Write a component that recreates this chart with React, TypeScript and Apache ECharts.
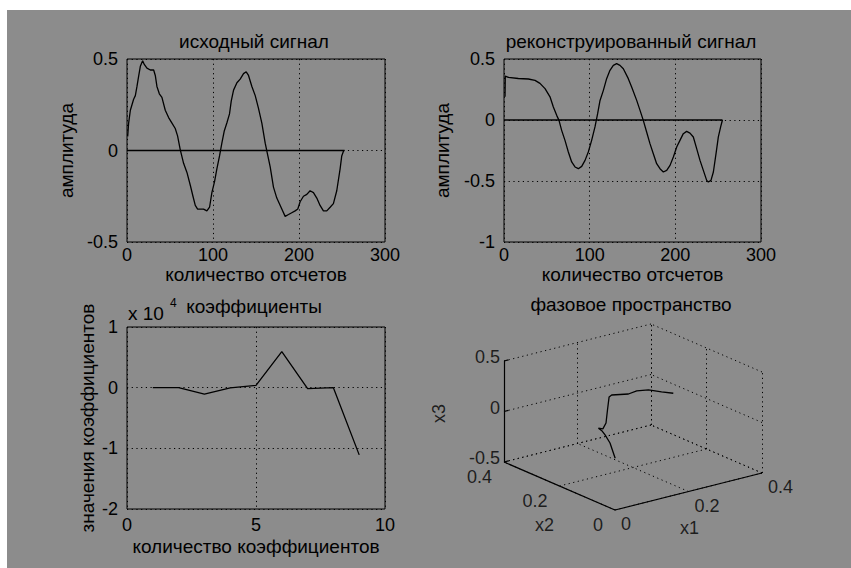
import React, { useEffect, useRef } from "react";
import * as echarts from "echarts";

// ---------- data ----------
const signalT = [0.8,1.9,3.9,5.8,7.7,9.7,11.6,13.5,15.5,18.2,20.1,23.2,27.1,31,32.9,34.8,37.6,40.6,44.5,48.4,52.3,56.1,58.8,61.9,65.8,69.7,73.6,76.7,79.4,82.1,85.2,89,92.9,96,98.7,101.8,104.5,107.6,110.3,113,116.1,119.2,121.2,123.9,127.8,131.6,135.5,138.6,141.3,145.2,149.1,152.9,156.8,160.7,163.8,166.5,170.3,174.2,180,183.9,187.8,191.6,195.5,198.6,201.3,205.2,209.1,212.9,216.8,220.7,224.5,228.4,232.3,236.2,240,243.9,247.8,249.7,252];
const signalV = [0.077,0.15,0.22,0.25,0.28,0.3,0.35,0.405,0.46,0.49,0.47,0.45,0.44,0.44,0.41,0.35,0.31,0.29,0.22,0.18,0.15,0.12,0.08,0.005,-0.07,-0.12,-0.19,-0.25,-0.3,-0.32,-0.32,-0.32,-0.33,-0.31,-0.23,-0.17,-0.1,-0.03,0.04,0.105,0.15,0.2,0.27,0.33,0.37,0.39,0.42,0.43,0.41,0.35,0.3,0.23,0.15,0.04,-0.03,-0.09,-0.2,-0.26,-0.32,-0.36,-0.35,-0.34,-0.33,-0.32,-0.28,-0.25,-0.24,-0.22,-0.23,-0.26,-0.3,-0.33,-0.33,-0.31,-0.29,-0.22,-0.1,-0.03,0];
const signalBaseT = [0, 253];
const signalBaseV = [0, 0];

const reconT = [1.2,1.5,5.1,16.7,28.4,36.2,42,47.9,53.7,57.6,61.5,64.2,67.3,71.2,75.1,79,82.9,86.8,90.7,94.6,98.4,102.3,106.2,109.3,112.1,116,119.8,123.7,127.6,131.5,135.4,139.3,145.1,149,154.9,158.8,162.6,166.5,170.4,174.3,178.2,182.1,186,189.9,193.8,197.7,201.6,205.4,209.3,213.2,217.1,221,224.9,228.8,232.7,236.6,238.5,241.6,244.4,247.5,250.2,252.9,255];
const reconV = [0.19,0.36,0.35,0.34,0.336,0.325,0.3,0.257,0.19,0.107,0.038,-0.003,-0.085,-0.167,-0.262,-0.344,-0.385,-0.399,-0.38,-0.331,-0.262,-0.167,-0.057,0.052,0.16,0.243,0.339,0.407,0.448,0.462,0.448,0.42,0.339,0.27,0.161,0.079,-0.003,-0.098,-0.194,-0.276,-0.358,-0.399,-0.426,-0.413,-0.372,-0.303,-0.221,-0.167,-0.112,-0.093,-0.107,-0.139,-0.235,-0.331,-0.413,-0.495,-0.508,-0.495,-0.426,-0.276,-0.139,-0.057,0];
const reconBaseT = [0, 255];
const reconBaseV = [0, 0];

const coefN = [1, 2, 3, 4, 5, 6, 7, 8, 9];
const coefV = [0, 0, -1080, -30, 380, 5950, -160, 0, -11080];

const phaseX1 = [0.159,0.145,0.124,0.115,0.106,0.118,0.119,0.123,0.135,0.142,0.18,0.195,0.227,0.255,0.287];
const phaseX2 = [0.21,0.21,0.2,0.2,0.2,0.2,0.19,0.19,0.2,0.2,0.19,0.18,0.18,0.17,0.17];
const phaseX3 = [-0.383,-0.219,-0.108,-0.058,-0.025,-0.043,0.027,0.152,0.258,0.271,0.258,0.286,0.267,0.235,0.191];

const x1Ticks = [0, 0.2, 0.4];
const x2Ticks = [0, 0.2, 0.4];
const x3Ticks = [-0.5, 0, 0.5];

// ---------- styling ----------
const FONT = "'Liberation Sans', Arial, Helvetica, sans-serif";
const INK = "#000";
const DOT: number[] = [1.2, 3.5];
const TICK_FS = 18;

// 3D -> screen projection (view of the phase-space box)
const P_ORIGIN = [615, 510];
const P_VX1 = [147, -37];
const P_VX2 = [-111, -48];
const P_VX3 = [0, -101];
function project(a: number, b: number, c: number): number[] {
  const u = (a - x1Ticks[0]) / (x1Ticks[x1Ticks.length - 1] - x1Ticks[0]);
  const v = (b - x2Ticks[0]) / (x2Ticks[x2Ticks.length - 1] - x2Ticks[0]);
  const w = (c - x3Ticks[0]) / (x3Ticks[x3Ticks.length - 1] - x3Ticks[0]);
  return [
    P_ORIGIN[0] + u * P_VX1[0] + v * P_VX2[0] + w * P_VX3[0],
    P_ORIGIN[1] + u * P_VX1[1] + v * P_VX2[1] + w * P_VX3[1],
  ];
}

function pairs(xs: number[], ys: number[]) {
  return xs.map((x, i) => [x, ys[i]]);
}

function tickLabel(margin: number, extra: any = {}) {
  return { color: INK, fontSize: TICK_FS, fontFamily: FONT, margin, ...extra };
}

function axisCommon(extra: any) {
  return {
    type: "value",
    axisLine: { show: false },
    axisTick: { show: false },
    nameLocation: "middle",
    nameTextStyle: { color: INK, fontSize: 19, fontFamily: FONT },
    splitLine: { show: true, lineStyle: { color: INK, width: 1, type: DOT } },
    ...extra,
  };
}

function buildOption() {
  const x1Max = x1Ticks[x1Ticks.length - 1];
  const x2Max = x2Ticks[x2Ticks.length - 1];
  const x3Min = x3Ticks[0];
  const x3Max = x3Ticks[x3Ticks.length - 1];

  const gridSegs: any[] = [];
  x1Ticks.forEach((t) => {
    gridSegs.push({ coords: [project(t, x2Max, x3Min), project(t, x2Max, x3Max)] });
    gridSegs.push({ coords: [project(t, 0, x3Min), project(t, x2Max, x3Min)] });
  });
  x2Ticks.forEach((t) => {
    gridSegs.push({ coords: [project(x1Max, t, x3Min), project(x1Max, t, x3Max)] });
    gridSegs.push({ coords: [project(0, t, x3Min), project(x1Max, t, x3Min)] });
  });
  x3Ticks.forEach((z) => {
    gridSegs.push({ coords: [project(0, x2Max, z), project(x1Max, x2Max, z)] });
    gridSegs.push({ coords: [project(x1Max, 0, z), project(x1Max, x2Max, z)] });
  });
  const axisSegs: any[] = [
    { coords: [project(0, 0, x3Min), project(x1Max, 0, x3Min)] },
    { coords: [project(0, 0, x3Min), project(0, x2Max, x3Min)] },
    { coords: [project(0, x2Max, x3Min), project(0, x2Max, x3Max)] },
  ];
  x3Ticks.forEach((z) => {
    axisSegs.push({ coords: [project(0, x2Max, z), project(0.012, x2Max, z)] });
  });

  const label3d = (extra: any) => ({
    show: true,
    position: "inside",
    color: INK,
    fontSize: TICK_FS,
    fontFamily: FONT,
    verticalAlign: "middle",
    ...extra,
  });
  const hiddenScatter = (data: any[], label: any) => ({
    type: "scatter",
    xAxisIndex: 3,
    yAxisIndex: 3,
    symbol: "circle",
    symbolSize: 1,
    itemStyle: { color: "transparent" },
    silent: true,
    emphasis: { disabled: true },
    label,
    data,
  });

  const titleStyle = { color: INK, fontSize: 19, fontWeight: "normal", fontFamily: FONT };
  const mkTitle = (text: string, x: number, y: number) => ({
    text,
    left: x,
    top: y,
    textAlign: "center",
    textVerticalAlign: "middle",
    padding: 0,
    textStyle: titleStyle,
  });

  const lineSeries = (xi: number, data: any[]) => ({
    type: "line",
    xAxisIndex: xi,
    yAxisIndex: xi,
    data,
    symbol: "none",
    showSymbol: false,
    silent: true,
    lineStyle: { color: INK, width: 1.3 },
    z: 5,
  });

  const gridBox = { show: true, borderColor: INK, borderWidth: 1, backgroundColor: "transparent" };

  return {
    animation: false,
    title: [
      mkTitle("исходный сигнал", 254, 41),
      mkTitle("реконструированный сигнал", 631, 41),
      mkTitle("коэффициенты", 254, 306),
      mkTitle("фазовое пространство", 631, 304),
    ],
    grid: [
      { left: 127, top: 59, width: 258, height: 183, ...gridBox },
      { left: 504, top: 59, width: 257, height: 183, ...gridBox },
      { left: 127, top: 327, width: 258, height: 182, ...gridBox },
      { left: 0, top: 0, width: 851, height: 568, show: false },
    ],
    xAxis: [
      axisCommon({ gridIndex: 0, min: 0, max: 300, interval: 100, name: "количество отсчетов", nameGap: 19, axisLabel: tickLabel(4) }),
      axisCommon({ gridIndex: 1, min: 0, max: 300, interval: 100, name: "количество отсчетов", nameGap: 19, axisLabel: tickLabel(4) }),
      axisCommon({ gridIndex: 2, min: 0, max: 10, interval: 5, name: "количество коэффициентов", nameGap: 28, axisLabel: tickLabel(7) }),
      { gridIndex: 3, type: "value", min: 0, max: 851, show: false },
    ],
    yAxis: [
      axisCommon({ gridIndex: 0, min: -0.5, max: 0.5, interval: 0.5, name: "амплитуда", nameGap: 51, nameRotate: 90, axisLabel: tickLabel(9) }),
      axisCommon({ gridIndex: 1, min: -1, max: 0.5, interval: 0.5, name: "амплитуда", nameGap: 52, nameRotate: 90, axisLabel: tickLabel(9) }),
      axisCommon({ gridIndex: 2, min: -20000, max: 10000, interval: 10000, name: "значения коэффициентов", nameGap: 30, nameRotate: 90, axisLabel: tickLabel(9, { formatter: (v: number) => String(v / 10000) }) }),
      { gridIndex: 3, type: "value", min: 0, max: 568, inverse: true, show: false },
    ],
    graphic: [
      { type: "text", x: 128, y: 313, silent: true, style: { text: "x 10", fill: INK, font: `19px ${FONT}`, verticalAlign: "middle" } },
      { type: "text", x: 170, y: 303, silent: true, style: { text: "4", fill: INK, font: `12px ${FONT}`, verticalAlign: "middle" } },
    ],
    series: [
      lineSeries(0, pairs(signalBaseT, signalBaseV)),
      lineSeries(0, pairs(signalT, signalV)),
      lineSeries(1, pairs(reconBaseT, reconBaseV)),
      lineSeries(1, pairs(reconT, reconV)),
      lineSeries(2, pairs(coefN, coefV)),
      {
        type: "lines",
        coordinateSystem: "cartesian2d",
        xAxisIndex: 3,
        yAxisIndex: 3,
        silent: true,
        lineStyle: { color: INK, width: 1, type: DOT, opacity: 1, curveness: 0 },
        data: gridSegs,
        z: 2,
      },
      {
        type: "lines",
        coordinateSystem: "cartesian2d",
        xAxisIndex: 3,
        yAxisIndex: 3,
        silent: true,
        lineStyle: { color: INK, width: 1.2, type: "solid", opacity: 1, curveness: 0 },
        data: axisSegs,
        z: 3,
      },
      {
        type: "line",
        xAxisIndex: 3,
        yAxisIndex: 3,
        symbol: "none",
        silent: true,
        lineStyle: { color: INK, width: 1.3 },
        data: phaseX1.map((a, i) => project(a, phaseX2[i], phaseX3[i])),
        z: 5,
      },
      hiddenScatter(
        x3Ticks.map((z) => ({ value: project(0, x2Max, z), name: String(z) })),
        label3d({ align: "right", offset: [-4, -4], formatter: (p: any) => p.name })
      ),
      hiddenScatter(
        x2Ticks.map((t) => ({ value: project(0, t, x3Min), name: String(t) })),
        label3d({ align: "right", offset: [-12, 15], formatter: (p: any) => p.name })
      ),
      hiddenScatter(
        x1Ticks.map((t) => ({ value: project(t, 0, x3Min), name: String(t) })),
        label3d({ align: "left", offset: [6, 14], formatter: (p: any) => p.name })
      ),
      hiddenScatter(
        [
          { value: project(0, x2Ticks[1], x3Min), name: "x2", label: { offset: [-15, 39] } },
          { value: project(x1Ticks[1], 0, x3Min), name: "x1", label: { offset: [1, 36] } },
          { value: project(0, x2Max, x3Ticks[1]), name: "x3", label: { offset: [-2, -65], rotate: 90 } },
        ],
        label3d({ align: "center", formatter: (p: any) => p.name })
      ),
    ],
  };
}

export default function App() {
  const ref = useRef<HTMLDivElement>(null);
  useEffect(() => {
    if (!ref.current) return;
    const chart = echarts.init(ref.current, null, { renderer: "svg" });
    chart.setOption(buildOption() as any);
    return () => chart.dispose();
  }, []);
  return (
    <div style={{ position: "absolute", left: 0, top: 0, width: 851, height: 568, background: "#ffffff" }}>
      <div style={{ position: "absolute", left: 7, top: 10, width: 844, height: 558, background: "#8c8c8c" }} />
      <div ref={ref} style={{ position: "absolute", left: 0, top: 0, width: 851, height: 568 }} />
    </div>
  );
}
